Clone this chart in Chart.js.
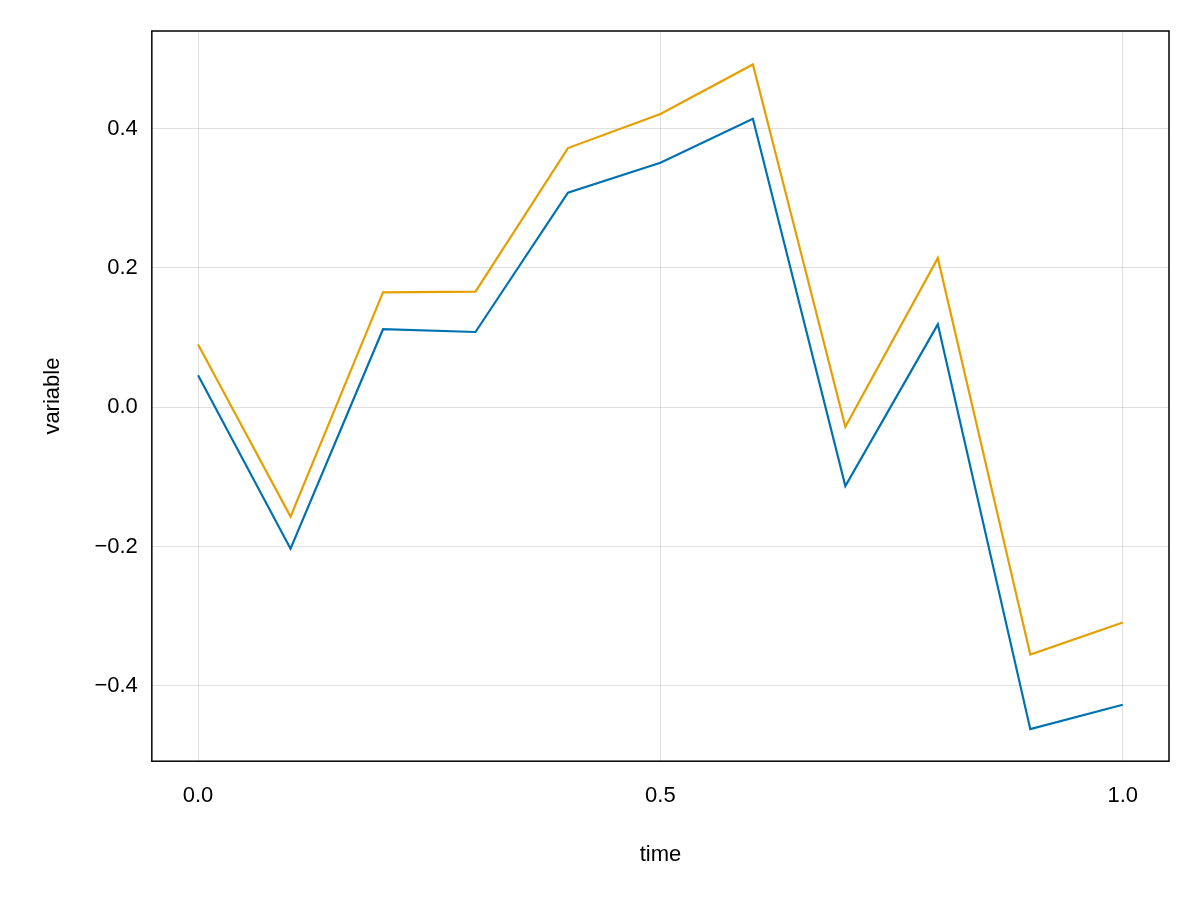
<!DOCTYPE html>
<html>
<head>
<script src="https://cdn.jsdelivr.net/npm/chart.js@4"></script>
<style>
  body { margin: 0; background: #fff; }
  #wrap { width: 1200px; height: 900px; }
</style>
</head>
<body>
<div id="wrap"><canvas id="chart"></canvas></div>
<script>
const times = [0.0, 0.1, 0.2, 0.3, 0.4, 0.5, 0.6, 0.7, 0.8, 0.9, 1.0];
const blueValues = [0.046, -0.203, 0.112, 0.108, 0.308, 0.351, 0.414, -0.113, 0.119, -0.462, -0.427];
const orangeValues = [0.090, -0.157, 0.165, 0.166, 0.372, 0.421, 0.492, -0.028, 0.214, -0.355, -0.309];
const xTicks = [0, 0.5, 1];
const yTicks = [-0.4, -0.2, 0, 0.2, 0.4];

const toPoints = vals => vals.map((v, i) => ({ x: times[i], y: v }));

// frame around the plot area
const frame = {
    id: 'frame',
    afterDraw(chart) {
        const a = chart.chartArea, ctx = chart.ctx;
        ctx.save();
        ctx.strokeStyle = '#000';
        ctx.lineWidth = 1.5;
        ctx.strokeRect(a.left, a.top, a.right - a.left, a.bottom - a.top);
        ctx.restore();
    }
};

const fmt = v => {
    const s = Math.abs(v).toFixed(1);
    return v < 0 ? '\u2212' + s : s;
};

new Chart(document.getElementById('chart'), {
    type: 'line',
    data: {
        datasets: [
            { data: toPoints(blueValues), borderColor: '#0072b2', borderWidth: 2.2, pointRadius: 0, fill: false, tension: 0 },
            { data: toPoints(orangeValues), borderColor: '#e69f00', borderWidth: 2.2, pointRadius: 0, fill: false, tension: 0 }
        ]
    },
    options: {
        responsive: true,
        maintainAspectRatio: false,
        animation: false,
        layout: { padding: { top: 31, right: 31, left: 36, bottom: 28 } },
        plugins: { legend: { display: false }, tooltip: { enabled: false } },
        scales: {
            x: {
                type: 'linear',
                min: -0.05,
                max: 1.05,
                afterBuildTicks: s => { s.ticks = xTicks.map(v => ({ value: v })); },
                ticks: { callback: v => fmt(v), color: '#000', font: { family: 'Liberation Sans', size: 22 }, padding: 22 },
                grid: { color: 'rgba(0,0,0,0.12)', lineWidth: 1, drawTicks: false },
                border: { display: false },
                title: { display: true, text: 'time', color: '#000', font: { family: 'Liberation Sans', size: 22 }, padding: { top: 10 } }
            },
            y: {
                min: -0.508,
                max: 0.54,
                afterBuildTicks: s => { s.ticks = yTicks.map(v => ({ value: v })); },
                ticks: { callback: v => fmt(v), color: '#000', font: { family: 'Liberation Sans', size: 22 }, padding: 14 },
                grid: { color: 'rgba(0,0,0,0.12)', lineWidth: 1, drawTicks: false },
                border: { display: false },
                title: { display: true, text: 'variable', color: '#000', font: { family: 'Liberation Sans', size: 22 }, padding: { bottom: 14 } }
            }
        }
    },
    plugins: [frame]
});
</script>
</body>
</html>
